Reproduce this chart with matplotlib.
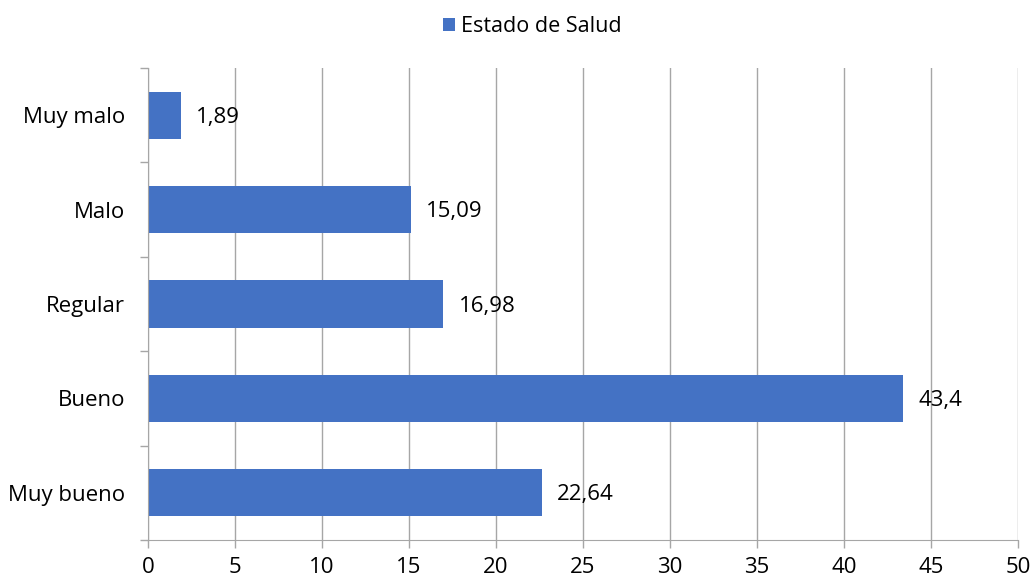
import matplotlib.pyplot as plt
from matplotlib.ticker import FixedLocator

plt.rcParams['font.family'] = ['Open Sans', 'DejaVu Sans']

categorias = ['Muy bueno', 'Bueno', 'Regular', 'Malo', 'Muy malo']
valores = [22.64, 43.4, 16.98, 15.09, 1.89]
etiquetas = ['22,64', '43,4', '16,98', '15,09', '1,89']
xticks = [0, 5, 10, 15, 20, 25, 30, 35, 40, 45, 50]

fig = plt.figure(figsize=(10.34, 5.83), dpi=100)
ax = fig.add_axes([0.1431, 0.0738, 0.8414, 0.8096])

pos = list(range(len(categorias)))
bars = ax.barh(pos, valores, height=0.5, color='#4472C4', label='Estado de Salud', zorder=3)

for b, t in zip(bars, etiquetas):
    ax.annotate(t, (b.get_width(), b.get_y() + b.get_height() / 2),
                xytext=(11, -1.5), textcoords='offset points', va='center', ha='left',
                fontsize=16, color='black', zorder=4)

ax.set_xlim(0, 50)
ax.set_ylim(-0.5, len(categorias) - 0.5)
ax.set_xticks(xticks)
ax.set_xticklabels([str(x) for x in xticks], fontsize=16)
ax.set_yticks(pos)
ax.set_yticklabels(categorias, fontsize=16)
ax.tick_params(axis='y', which='major', length=0, pad=16.5)
ax.yaxis.set_minor_locator(FixedLocator([i - 0.5 for i in range(len(categorias) + 1)]))
ax.tick_params(axis='y', which='minor', length=6, color='#a6a6a6', width=1)
ax.tick_params(axis='x', length=6, color='#a6a6a6', width=1, pad=6)

ax.grid(axis='x', color='#a6a6a6', linewidth=1, zorder=0)
for s in ['top', 'right']:
    ax.spines[s].set_visible(False)
for s in ['left', 'bottom']:
    ax.spines[s].set_color('#a6a6a6')
    ax.spines[s].set_zorder(5)

fig.legend(loc='upper center', bbox_to_anchor=(0.515, 1.005), frameon=False,
           fontsize=15.5, handlelength=0.55, handleheight=0.55, handletextpad=0.3)

fig.savefig('out.png', dpi=100)
